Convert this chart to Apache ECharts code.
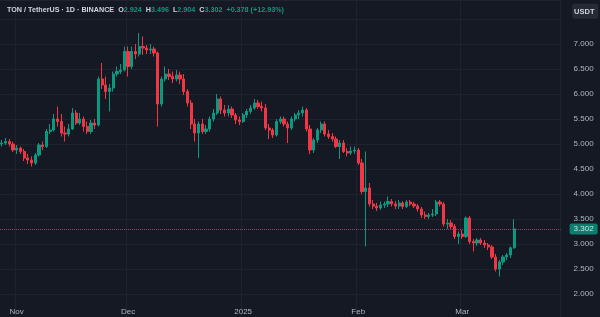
<!DOCTYPE html>
<html><head><meta charset="utf-8">
<script src="https://cdn.jsdelivr.net/npm/echarts@6/dist/echarts.min.js"></script>
<style>html,body{margin:0;padding:0;background:#151924;}#c{width:600px;height:317px;}</style>
</head><body><div id="c"></div>
<script>
// ---- data ----
const startDate = '2024-10-28';
const totalSlots = 151; // daily slots on the time scale (incl. empty space on the right)
const opens = [
5.00,5.02,5.05,5.00,
4.88,4.92,4.85,4.72,4.68,4.62,4.78,4.98,4.95,5.25,5.28,5.50,5.45,5.22,5.20,5.30,5.62,5.42,5.50,5.35,5.25,5.42,5.38,6.30,6.18,6.05,6.12,6.40,6.45,6.48,
6.85,6.55,6.85,6.80,6.95,6.92,6.88,6.90,6.82,5.80,6.30,6.40,6.35,6.30,6.38,6.30,6.05,5.82,5.40,5.22,5.40,5.25,5.30,5.50,5.62,5.90,5.68,5.62,5.70,5.58,5.48,
5.45,5.58,5.65,5.72,5.82,5.75,5.72,5.32,5.28,5.18,5.45,5.50,5.40,5.32,5.50,5.58,5.62,5.68,5.30,4.88,5.08,5.28,5.40,5.20,5.15,5.10,4.95,5.02,4.85,4.82,4.86,
4.88,4.62,4.05,4.12,3.80,3.76,3.72,3.78,3.80,3.85,3.80,3.76,3.82,3.75,3.84,3.80,3.76,3.70,3.58,3.55,3.58,3.60,3.84,3.80,3.40,3.42,3.35,3.15,
3.20,3.15,3.52,3.05,3.02,3.08,3.02,2.98,2.94,2.74,2.50,2.64,2.74,2.78,2.924];
const highs = [
5.08,5.12,5.10,5.05,
4.98,4.95,4.90,4.80,4.75,4.82,5.02,5.05,5.30,5.40,5.60,5.75,5.60,5.35,5.40,5.72,5.68,5.62,5.55,5.45,5.48,5.50,6.35,6.62,6.35,6.20,6.45,6.55,6.60,6.95,
6.95,6.95,7.00,7.22,7.15,6.98,7.00,6.95,6.85,6.35,6.55,6.50,6.45,6.48,6.45,6.40,6.10,5.88,5.50,5.45,5.50,5.38,5.55,5.70,6.00,5.95,5.78,5.78,5.75,5.62,5.55,
5.62,5.70,5.78,5.90,5.88,5.85,5.80,5.40,5.32,5.50,5.55,5.55,5.45,5.55,5.62,5.68,5.75,5.72,5.38,5.12,5.32,5.45,5.45,5.28,5.22,5.15,5.08,5.08,4.92,4.95,4.95,
4.92,4.70,4.85,4.22,3.88,3.82,3.85,3.85,3.95,3.90,3.86,3.88,3.86,3.88,3.88,3.84,3.80,3.74,3.65,3.62,3.70,3.88,3.88,3.84,3.50,3.48,3.40,3.25,
3.28,3.55,3.56,3.10,3.12,3.12,3.08,3.02,2.98,2.80,2.68,2.78,2.82,2.95,3.496];
const lows = [
4.95,4.98,4.95,4.84,
4.80,4.80,4.66,4.60,4.55,4.58,4.75,4.88,4.92,5.20,5.25,5.35,5.15,5.05,5.15,5.28,5.38,5.38,5.25,5.20,5.20,5.30,5.35,6.10,5.90,5.65,6.05,6.35,6.40,6.45,
6.35,6.50,6.70,6.75,6.78,6.80,6.80,6.75,5.35,5.75,6.25,6.28,6.22,6.25,6.20,5.98,5.75,5.30,5.05,4.72,5.20,5.20,5.25,5.45,5.58,5.60,5.55,5.55,5.52,5.40,5.38,
5.42,5.52,5.60,5.68,5.70,5.65,5.28,5.10,5.12,5.15,5.40,5.35,5.02,5.28,5.45,5.50,5.55,5.25,4.80,4.82,5.02,5.22,5.15,5.10,5.05,4.92,4.70,4.82,4.75,4.78,4.80,
4.58,4.00,2.95,3.75,3.70,3.66,3.68,3.72,3.74,3.75,3.70,3.70,3.70,3.72,3.76,3.72,3.65,3.52,3.50,3.50,3.54,3.56,3.75,3.35,3.30,3.30,3.10,3.00,
3.10,3.12,3.00,2.85,2.96,2.98,2.92,2.88,2.70,2.45,2.35,2.58,2.68,2.72,2.904];
const closes = [
5.02,5.05,5.00,4.88,
4.92,4.85,4.72,4.68,4.62,4.78,4.98,4.95,5.25,5.28,5.50,5.45,5.22,5.20,5.30,5.62,5.42,5.50,5.35,5.25,5.42,5.38,6.30,6.18,6.05,6.12,6.40,6.45,6.48,6.85,
6.55,6.85,6.80,6.95,6.92,6.88,6.90,6.82,5.80,6.30,6.40,6.35,6.30,6.38,6.30,6.05,5.82,5.40,5.22,5.40,5.25,5.30,5.50,5.62,5.90,5.68,5.62,5.70,5.58,5.48,5.45,
5.58,5.65,5.72,5.82,5.75,5.72,5.32,5.28,5.18,5.45,5.50,5.40,5.32,5.50,5.58,5.62,5.68,5.30,4.88,5.08,5.28,5.40,5.20,5.15,5.10,4.95,5.02,4.85,4.82,4.86,4.88,
4.62,4.05,4.12,3.80,3.76,3.72,3.78,3.80,3.85,3.80,3.76,3.82,3.75,3.84,3.80,3.76,3.70,3.58,3.55,3.58,3.60,3.84,3.80,3.40,3.42,3.35,3.15,3.20,
3.15,3.52,3.05,3.02,3.08,3.02,2.98,2.94,2.74,2.50,2.64,2.74,2.78,2.924,3.302];
const monthNames = {'01':'2025','02':'Feb','03':'Mar','11':'Nov','12':'Dec'};
const priceMin = 1.54, priceMax = 7.88, priceStep = 0.5;

// ---- build ----
const categories = [];
const d0 = new Date(startDate + 'T00:00:00Z');
for (let i = 0; i < totalSlots; i++) {
  categories.push(new Date(d0.getTime() + i * 86400000).toISOString().slice(0, 10));
}
const candleData = categories.map((c, i) => i < opens.length ? [opens[i], closes[i], lows[i], highs[i]] : '-');
const n = closes.length - 1;
const lastO = opens[n], lastH = highs[n], lastL = lows[n], lastC = closes[n];
const chg = lastC - closes[n - 1];
const pct = chg / closes[n - 1] * 100;
const isMonthStart = (idx, val) => val.slice(8) === '01';
const isStep = v => Math.abs(v / priceStep - Math.round(v / priceStep)) < 1e-6;

const UP = '#089981', DOWN = '#f23645', GRID = '#1f2330', TXT = '#b2b5be';
const chart = echarts.init(document.getElementById('c'), null, {renderer: 'canvas'});
chart.setOption({
  animation: false,
  backgroundColor: '#151924',
  textStyle: {fontFamily: 'Liberation Sans, Arial, sans-serif'},
  title: {
    left: 2, top: 2,
    text: '{n|TON / TetherUS · 1D · BINANCE}  {k|O}{v|' + lastO.toFixed(3) + '}  {k|H}{v|' + lastH.toFixed(3) +
          '}  {k|L}{v|' + lastL.toFixed(3) + '}  {k|C}{v|' + lastC.toFixed(3) + '}  {v|' +
          (chg >= 0 ? '+' : '') + chg.toFixed(3) + ' (' + (pct >= 0 ? '+' : '') + pct.toFixed(2) + '%)}',
    textStyle: {
      fontSize: 7.2,
      rich: {
        n: {color: '#d1d4dc', fontSize: 7.2},
        k: {color: '#d1d4dc', fontSize: 7.2},
        v: {color: UP, fontSize: 7.2}
      }
    }
  },
  grid: {left: 0, right: 39.4, top: 0, bottom: 0},
  xAxis: {
    type: 'category',
    data: categories,
    boundaryGap: true,
    axisLine: {show: false},
    axisTick: {show: false},
    axisLabel: {
      inside: true, margin: 1, color: TXT, fontSize: 8,
      interval: isMonthStart,
      formatter: v => monthNames[v.slice(5, 7)] || ''
    },
    splitLine: {show: true, interval: isMonthStart, lineStyle: {color: GRID, width: 1}}
  },
  yAxis: {
    type: 'value', position: 'right',
    min: priceMin, max: priceMax, splitNumber: 12,
    minInterval: priceStep, maxInterval: priceStep,
    axisLine: {show: false}, axisTick: {show: false},
    axisLabel: {
      color: TXT, fontSize: 8, margin: 13, align: 'left',
      showMinLabel: false, showMaxLabel: false,
      formatter: v => (v > 7.2 || !isStep(v)) ? '' : v.toFixed(3)
    },
    splitLine: {show: true, lineStyle: {color: GRID, width: 1}}
  },
  graphic: [
    {type: 'rect', right: 2, top: 4, shape: {width: 25, height: 14, r: 2},
     style: {fill: '#262a35', stroke: '#363a45', lineWidth: 0.5}},
    {type: 'text', right: 5.5, top: 7.5, style: {text: 'USDT', fill: '#d1d4dc', font: 'bold 7.5px Liberation Sans, Arial, sans-serif'}}
  ],
  series: [{
    type: 'candlestick',
    data: candleData,
    barWidth: '72%',
    itemStyle: {color: UP, color0: DOWN, borderColor: UP, borderColor0: DOWN, borderWidth: 1},
    markLine: {
      silent: true, symbol: ['none', 'none'],
      lineStyle: {color: UP, type: 'dotted', width: 1, opacity: 0.8},
      label: {
        show: true, position: 'end', distance: 9,
        formatter: lastC.toFixed(3),
        backgroundColor: UP, color: '#ffffff', fontSize: 8,
        padding: [2, 4, 1, 4], borderRadius: 2
      },
      data: [{yAxis: lastC}]
    }
  }]
});
</script></body></html>
